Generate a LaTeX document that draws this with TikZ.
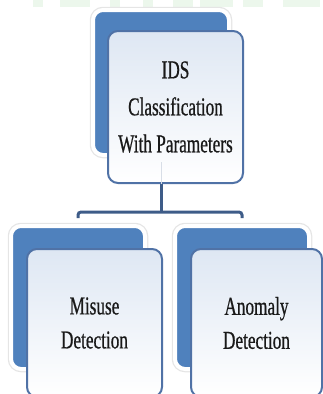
\documentclass[tikz,border=0pt]{standalone}
\usepackage{fontspec}
\usepackage{tikz}
\usepackage{xcolor}
\newfontfamily\boxfont[FakeStretch=0.67,FakeBold=0.6]{Liberation Serif}
\definecolor{backblue}{RGB}{79,129,189}
\definecolor{rimblue}{RGB}{80,114,166}
\definecolor{paleblue}{RGB}{222,231,243}
\definecolor{linkblue}{RGB}{62,92,136}
\definecolor{bandgreen}{RGB}{236,247,236}
\usetikzlibrary{positioning}

\begin{document}
\begin{tikzpicture}[x=1pt,y=-1pt,
    backbox/.style={rectangle, rounded corners=10pt, fill=backblue, draw=white, line width=4pt,
      preaction={draw=black!10, line width=6.5pt}, inner sep=0pt},
    frontbox/.style={rectangle, rounded corners=10pt, top color=paleblue, bottom color=white,
      draw=rimblue, line width=2pt, inner sep=0pt, align=center, text=black!90},
    link/.style={draw=linkblue, line width=3pt, rounded corners=3pt}]
    \useasboundingbox (0,0) rectangle (323,394);
    % faint band at the top edge
    \foreach \xa/\xb in {33/43, 60/90, 110/120, 143/153, 173/193, 200/233, 243/263, 283/320}
        \fill [bandgreen] (\xa,0) rectangle (\xb,7);
    % back panels
    \node [backbox, minimum width=136pt, minimum height=145pt] (idsback) at (161,82.5) {};
    \node [backbox, minimum width=134pt, minimum height=143pt] (misback) at (78,297.5) {};
    \node [backbox, minimum width=134pt, minimum height=143pt] (anoback) at (242,297.5) {};
    % connectors
    \coordinate (fork) at (161,212);
    \draw [link] (idsback.south) -- (fork);
    \draw [link] ([yshift=6pt]misback.north) |- (fork) -| ([yshift=6pt]anoback.north);
    % front panels
    \node [frontbox, minimum width=135pt, minimum height=152pt,
        font=\boxfont\fontsize{25.7}{37}\selectfont] (ids) at (175.5,107)
        {IDS\\Classification\\With Parameters};
    \node [frontbox, minimum width=135pt, minimum height=148pt,
        font=\boxfont\fontsize{25.7}{34}\selectfont] (misuse) at (94.5,323)
        {Misuse\\Detection};
    \node [frontbox, minimum width=131pt, minimum height=148pt,
        font=\boxfont\fontsize{25.7}{34}\selectfont] (anomaly) at (256.5,323)
        {Anomaly\\Detection};
    % stem seen through the top panel
    \draw [linkblue!20, line width=1pt] (idsback.south |- 0,162) -- (idsback.south |- ids.south);
\end{tikzpicture}
\end{document}
